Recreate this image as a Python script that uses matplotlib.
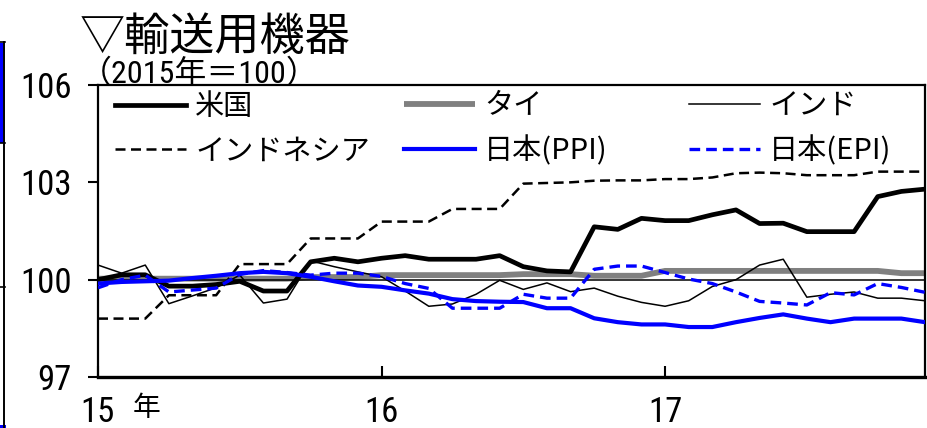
import matplotlib
matplotlib.use("Agg")
import matplotlib.pyplot as plt
from matplotlib import font_manager
from matplotlib.lines import Line2D
from matplotlib.patches import Rectangle

# ---- data (monthly, Jan 2015 - Dec 2017) ----
months = list(range(36))
tick_pos = [0, 12, 24]
tick_labels = ["15", "16", "17"]
y_ticks = [97, 100, 103, 106]

us = [100.0, 100.15, 100.15, 99.8, 99.8, 99.85, 99.95, 99.65, 99.65, 100.55,
      100.66, 100.55, 100.66, 100.74, 100.63, 100.63, 100.63, 100.74, 100.4, 100.27,
      100.24, 101.63, 101.55, 101.89, 101.82, 101.82, 102.0, 102.15, 101.73, 101.74,
      101.48, 101.48, 101.48, 102.56, 102.72, 102.79]
thai = [100.03, 100.03, 100.03, 100.03, 100.03, 100.03, 100.03, 100.03, 100.03, 100.08,
        100.08, 100.08, 100.14, 100.14, 100.14, 100.14, 100.14, 100.14, 100.17, 100.17,
        100.17, 100.12, 100.12, 100.12, 100.27, 100.27, 100.27, 100.27, 100.27, 100.27,
        100.27, 100.27, 100.27, 100.27, 100.2, 100.2]
india = [100.45, 100.2, 100.45, 99.26, 99.5, 99.75, 100.14, 99.28, 99.4, 100.58,
         100.4, 100.24, 100.09, 99.65, 99.18, 99.25, 99.55, 99.98, 99.7, 99.9,
         99.63, 99.74, 99.49, 99.3, 99.18, 99.35, 99.79, 100.0, 100.45, 100.63,
         99.46, 99.55, 99.62, 99.43, 99.43, 99.35]
indonesia = [98.8, 98.8, 98.8, 99.52, 99.52, 99.52, 100.48, 100.48, 100.48, 101.27,
             101.27, 101.27, 101.79, 101.79, 101.79, 102.18, 102.18, 102.18, 102.96, 102.98,
             103.0, 103.05, 103.06, 103.06, 103.1, 103.1, 103.15, 103.28, 103.3, 103.28,
             103.22, 103.22, 103.22, 103.33, 103.33, 103.33]
japan_ppi = [99.88, 99.93, 99.95, 99.97, 100.05, 100.12, 100.2, 100.24, 100.2, 100.09,
             99.95, 99.82, 99.78, 99.67, 99.57, 99.4, 99.34, 99.32, 99.31, 99.12,
             99.12, 98.81, 98.69, 98.62, 98.62, 98.54, 98.54, 98.69, 98.82, 98.93,
             98.8, 98.69, 98.8, 98.8, 98.8, 98.69]
japan_epi = [99.75, 100.0, 100.14, 99.62, 99.68, 99.74, 100.16, 100.28, 100.22, 100.14,
             100.2, 100.2, 100.1, 99.88, 99.73, 99.12, 99.12, 99.12, 99.55, 99.43,
             99.43, 100.32, 100.42, 100.42, 100.22, 100.02, 99.88, 99.62, 99.33, 99.28,
             99.22, 99.6, 99.53, 99.88, 99.76, 99.61]

W, H = 928, 428
JP = ["Noto Sans CJK JP", "DejaVu Sans"]


def narrow_family():
    """Pick a condensed sans family for the numerals if one is installed."""
    names = sorted({f.name for f in font_manager.fontManager.ttflist})
    for key in ("Liberation Sans Narrow", "Arial Narrow", "Roboto Condensed",
                "Open Sans Condensed", "DejaVu Sans Condensed", "Noto Sans Condensed"):
        if key in names:
            return key, False
    for n in names:
        if "Narrow" in n or "Condensed" in n:
            return n, False
    return "Liberation Sans", True


NUM_FAMILY, num_fallback = narrow_family()
NUM = [NUM_FAMILY, "Noto Sans CJK JP", "DejaVu Sans"]
num_size = 23 if num_fallback else 25

fig = plt.figure(figsize=(W / 100, H / 100), dpi=100)
fig.patch.set_facecolor("white")


def fx(px):
    return px / W


def fy(py):
    return 1 - py / H


ax = fig.add_axes([fx(98), fy(377), fx(925) - fx(98), fy(85) - fy(377)])
ax.set_xlim(0, 35)
ax.set_ylim(97, 106)

ax.axhline(100, color="black", lw=1.1, zorder=2.5)

ax.plot(months, thai, color="#808080", lw=4.2, solid_capstyle="butt", zorder=2, label="タイ")
ax.plot(months, us, color="black", lw=3.4, zorder=3, label="米国")
ax.plot(months, india, color="black", lw=1.1, zorder=3, label="インド")
ax.plot(months, indonesia, color="black", lw=1.8, dashes=(4, 2.2), zorder=3, label="インドネシア")
ax.plot(months, japan_ppi, color="#0000FF", lw=3.0, zorder=3, label="日本(PPI)")
ax.plot(months, japan_epi, color="#0000FF", lw=2.4, dashes=(3.2, 1.8), zorder=3, label="日本(EPI)")

# axes frame
for side in ["top", "right", "left"]:
    ax.spines[side].set_linewidth(1.6)
ax.spines["bottom"].set_linewidth(2.4)

ax.set_yticks(y_ticks)
ax.set_yticklabels([str(v) for v in y_ticks], family=NUM, fontsize=num_size)
ax.tick_params(axis="y", direction="out", length=7, width=1.5, pad=12)

ax.set_xticks(tick_pos)
ax.set_xticklabels(tick_labels, family=NUM, fontsize=num_size)
ax.tick_params(axis="x", direction="in", length=8, width=1.5, pad=14)

fig.text(fx(133), fy(408), "年", family=JP, fontsize=20, va="center", ha="left")

# legend, three columns of two rows
handles = {h.get_label(): h for h in ax.get_lines()}
cols = [(["米国", "インドネシア"], 115), (["タイ", "日本(PPI)"], 404), (["インド", "日本(EPI)"], 689)]
for labels, x0 in cols:
    fig.legend([handles[l] for l in labels], labels, loc="center left",
               bbox_to_anchor=(fx(x0), fy(129)), frameon=False,
               prop={"family": JP, "size": 21}, handlelength=2.45,
               handletextpad=0.3, labelspacing=0.5, borderpad=0, borderaxespad=0)

# heading
fig.text(fx(80), fy(37), "▽輸送用機器", family=JP, fontsize=32.5, va="center", ha="left")
fig.text(fx(80), fy(74), "（2015年＝100）", family=NUM,
         fontsize=23, va="center", ha="left")

# neighbouring panel edge on the left
fig.add_artist(Rectangle((0, fy(143)), fx(3), fy(43) - fy(143), transform=fig.transFigure,
                         facecolor="#0000FF", edgecolor="none"))
fig.add_artist(Line2D([fx(4), fx(4)], [fy(42), 0], transform=fig.transFigure, color="black", lw=1.4))
for yy in (42, 143, 287):
    fig.add_artist(Line2D([0, fx(5)], [fy(yy), fy(yy)], transform=fig.transFigure, color="black", lw=1.2))
fig.add_artist(Rectangle((0, 0), fx(6), fy(425), transform=fig.transFigure,
                         facecolor="#0000FF", edgecolor="none"))

fig.savefig("out.png", dpi=100)
